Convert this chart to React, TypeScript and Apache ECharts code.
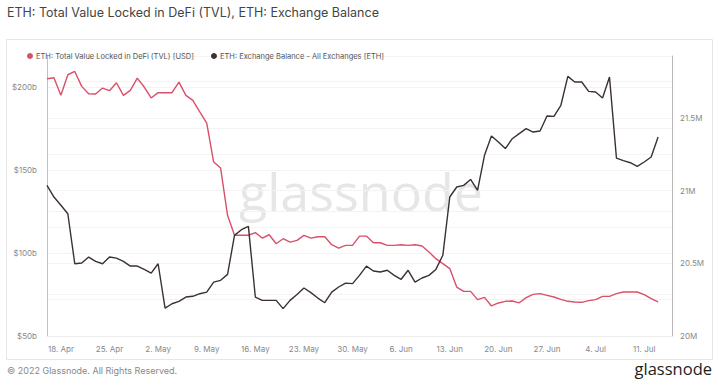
import React, { useEffect, useRef } from "react";
import * as echarts from "echarts";

// Daily points from 16 Apr 2022 to 13 Jul 2022
const startDate = { year: 2022, month: 3, day: 16 };
const categoryCount = 91; // axis runs two days past the last point
const monthNames = ["Jan", "Feb", "Mar", "Apr", "May", "Jun", "Jul", "Aug", "Sep", "Oct", "Nov", "Dec"];

// ETH: Total Value Locked in DeFi (TVL) [USD], billions
const tvlUsdB = [
  205.0, 205.6, 195.0, 207.4, 209.4, 200.4, 196.0, 195.8, 199.4, 197.8,
  202.6, 195.0, 198.0, 205.4, 200.0, 193.4, 196.6, 196.6, 196.6, 203.0,
  195.0, 192.0, 185.0, 178.3, 154.8, 151.2, 122.7, 110.7, 110.7, 110.7,
  112.3, 109.0, 111.0, 105.6, 108.6, 106.6, 107.6, 110.6, 109.0, 109.8,
  109.8, 105.0, 103.0, 104.6, 104.6, 110.2, 110.2, 106.2, 106.2, 104.6,
  104.6, 105.0, 104.6, 105.0, 104.2, 100.6, 96.6, 93.6, 90.6, 79.5,
  76.9, 76.9, 71.9, 73.3, 68.1, 69.9, 70.9, 71.1, 70.0, 73.1,
  75.1, 75.5, 74.5, 73.5, 72.1, 70.9, 70.5, 70.3, 71.3, 71.9,
  73.9, 73.9, 75.5, 76.5, 76.5, 76.5, 74.9, 72.5, 70.5,
];

// ETH: Exchange Balance - All Exchanges [ETH], millions
const exchangeBalanceM = [
  21.036, 20.956, 20.899, 20.841, 20.497, 20.502, 20.543, 20.513, 20.497, 20.543,
  20.536, 20.513, 20.481, 20.481, 20.458, 20.433, 20.497, 20.192, 20.222, 20.238,
  20.268, 20.273, 20.291, 20.302, 20.371, 20.383, 20.424, 20.692, 20.731, 20.754,
  20.268, 20.245, 20.245, 20.245, 20.188, 20.245, 20.286, 20.330, 20.298, 20.261,
  20.229, 20.302, 20.337, 20.364, 20.360, 20.417, 20.481, 20.447, 20.440, 20.452,
  20.417, 20.390, 20.452, 20.371, 20.399, 20.417, 20.458, 20.555, 20.956, 21.025,
  21.036, 21.077, 21.002, 21.243, 21.376, 21.334, 21.289, 21.357, 21.392, 21.426,
  21.403, 21.410, 21.513, 21.511, 21.587, 21.786, 21.747, 21.747, 21.683, 21.678,
  21.637, 21.781, 21.224, 21.206, 21.192, 21.167, 21.197, 21.231, 21.369,
];

const seriesNames = [
  "ETH: Total Value Locked in DeFi (TVL) [USD]",
  "ETH: Exchange Balance - All Exchanges [ETH]",
];
const titleText = "ETH: Total Value Locked in DeFi (TVL), ETH: Exchange Balance";
const footerText = "© 2022 Glassnode. All Rights Reserved.";
const brandText = "glassnode";

const RED = "#d9506a";
const DARK = "#3b3034";
const FONT = "Inter, 'Noto Sans', sans-serif";

function buildCategories(): string[] {
  const out: string[] = [];
  for (let i = 0; i < categoryCount; i++) {
    const d = new Date(startDate.year, startDate.month, startDate.day + i);
    out.push(`${d.getDate()}. ${monthNames[d.getMonth()]}`);
  }
  return out;
}

export default function App() {
  const ref = useRef<HTMLDivElement>(null);
  useEffect(() => {
    if (!ref.current) return;
    const chart = echarts.init(ref.current, undefined, { renderer: "svg" });
    const categories = buildCategories();
    const isHalf = (v: number) => Math.abs(v * 2 - Math.round(v * 2)) < 1e-6;
    chart.setOption({
      animation: false,
      backgroundColor: "#ffffff",
      textStyle: { fontFamily: FONT },
      title: {
        text: titleText,
        left: 2,
        top: 1,
        textStyle: { fontFamily: FONT, fontSize: 12.5, fontWeight: "normal", color: "#444" },
      },
      legend: {
        left: 22,
        top: 47,
        itemWidth: 6,
        itemHeight: 6,
        itemGap: 17,
        icon: "circle",
        textStyle: { fontFamily: FONT, fontSize: 7.5, color: "#555", padding: [0, 0, 0, -2] },
        data: seriesNames,
      },
      grid: { left: 47, right: 46, top: 56, bottom: 52, containLabel: false },
      xAxis: {
        type: "category",
        boundaryGap: false,
        data: categories,
        axisLine: { show: true, lineStyle: { color: "#ececec" } },
        axisTick: { show: false },
        splitLine: { show: false },
        axisLabel: {
          interval: (index: number) => (index - 2) % 7 === 0,
          color: "#888",
          fontSize: 8,
          margin: 9,
          fontFamily: FONT,
        },
      },
      yAxis: [
        {
          type: "value",
          position: "left",
          min: 50,
          max: 218.7,
          interval: 25,
          axisLine: { show: true, lineStyle: { color: "#f3aabb", width: 1 } },
          axisTick: { show: false },
          splitLine: { show: true, lineStyle: { color: "#f3f3f3" } },
          axisLabel: {
            color: "#888",
            fontSize: 8,
            margin: 10,
            fontFamily: FONT,
            showMaxLabel: false,
            formatter: (v: number) => (v % 50 === 0 && v <= 200 ? `$${v}b` : ""),
          },
        },
        {
          type: "value",
          position: "right",
          min: 20,
          max: 21.926,
          interval: 0.25,
          axisLine: { show: true, lineStyle: { color: "#b8b8b8", width: 1 } },
          axisTick: { show: false },
          splitLine: { show: true, lineStyle: { color: "#f3f3f3" } },
          axisLabel: {
            color: "#888",
            fontSize: 8,
            margin: 8,
            fontFamily: FONT,
            showMaxLabel: false,
            formatter: (v: number) => (isHalf(v) && v <= 21.5 ? `${Math.round(v * 10) / 10}M` : ""),
          },
        },
      ],
      graphic: [
        {
          type: "rect",
          silent: true,
          z: -1,
          shape: { x: 6.5, y: 39.5, width: 706, height: 320 },
          style: { fill: "none", stroke: "#e6e6e6", lineWidth: 1 },
        },
        {
          type: "text",
          silent: true,
          z: 0,
          x: 361,
          y: 190,
          style: {
            text: brandText,
            fontFamily: "'Open Sans', Inter, sans-serif",
            fontSize: 52,
            fill: "#e6e6e6",
            align: "center",
            verticalAlign: "middle",
          },
        },
        {
          type: "text",
          silent: true,
          x: 7,
          y: 370,
          style: {
            text: footerText,
            fontFamily: FONT,
            fontSize: 9,
            fill: "#888",
            verticalAlign: "middle",
          },
        },
        {
          type: "text",
          silent: true,
          x: 712,
          y: 368,
          style: {
            text: brandText,
            fontFamily: "'Open Sans', Inter, sans-serif",
            fontSize: 16.5,
            fill: "#1e1e1e",
            align: "right",
            verticalAlign: "middle",
          },
        },
      ],
      series: [
        {
          name: seriesNames[0],
          type: "line",
          yAxisIndex: 0,
          data: tvlUsdB,
          showSymbol: false,
          symbol: "circle",
          color: RED,
          lineStyle: { color: RED, width: 1.4 },
          z: 3,
        },
        {
          name: seriesNames[1],
          type: "line",
          yAxisIndex: 1,
          data: exchangeBalanceM,
          showSymbol: false,
          symbol: "circle",
          color: DARK,
          lineStyle: { color: DARK, width: 1.4 },
          z: 4,
        },
      ],
    });
    return () => chart.dispose();
  }, []);
  return <div ref={ref} style={{ width: 718, height: 388, position: "absolute", left: 0, top: 0 }} />;
}
